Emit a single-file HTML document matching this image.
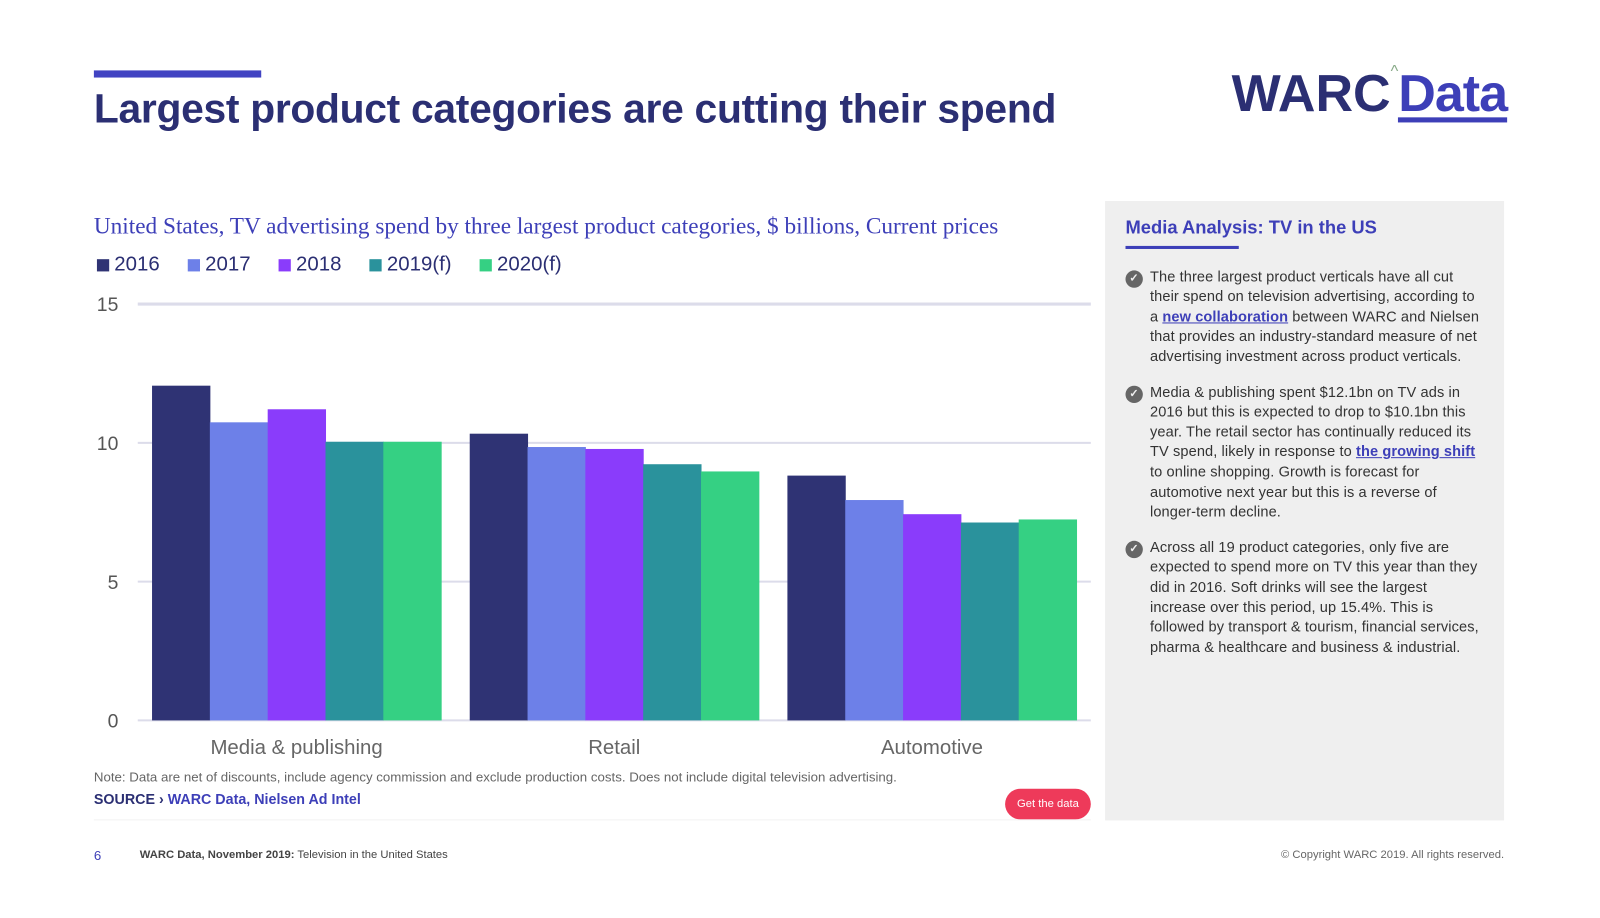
<!DOCTYPE html>
<html><head><meta charset="utf-8">
<style>
body{margin:0;width:1600px;height:900px;background:#fff;font-family:"Liberation Sans",sans-serif;overflow:hidden}
#wrap{position:absolute;left:0;top:0;width:1600px;height:900px;transform:scale(1.0204);transform-origin:0 0}
.abs{position:absolute}
.panel p{margin:0 0 15px 0;position:relative;padding-left:24px;white-space:nowrap}
.panel p .ic{position:absolute;left:0;top:2px;width:17px;height:17px;border-radius:50%;background:#666;color:#efefef;font-size:11px;line-height:17px;text-align:center;font-weight:bold}
.panel a{color:#3d3fb8;font-weight:bold;text-decoration:underline}
.leg{display:inline-flex;align-items:center;margin-right:22px}
.leg i{display:inline-block;width:12px;height:12px;margin-right:5px}
</style></head><body>
<div id="wrap">
<div class="abs" style="left:92px;top:69px;width:164px;height:7px;background:#4143c2"></div>
<div class="abs" style="left:92px;top:85px;font-size:40px;font-weight:bold;color:#2b2f73;letter-spacing:-0.3px">Largest product categories are cutting their spend</div>
<div class="abs" style="left:1207px;top:62px;font-size:51px;font-weight:bold;color:#2b2f73;letter-spacing:0px;white-space:nowrap">WARC<span style="font-size:16px;color:#8a8;vertical-align:top;font-weight:normal">^</span><span style="color:#3d3fb8;border-bottom:5px solid #3d3fb8;line-height:46px;display:inline-block;letter-spacing:-1px">Data</span></div>
<div class="abs" style="left:92px;top:209px;font-family:'Liberation Serif',serif;font-size:22.8px;color:#3d3fb8">United States, TV advertising spend by three largest product categories, $ billions, Current prices</div>
<div class="abs" style="left:95px;top:248px;font-size:20px;color:#2b2f73">
<span class="leg"><i style="background:#2f3374"></i>2016</span>
<span class="leg"><i style="background:#6d80e8"></i>2017</span>
<span class="leg"><i style="background:#8a3cfb"></i>2018</span>
<span class="leg"><i style="background:#2a929c"></i>2019(f)</span>
<span class="leg"><i style="background:#35d083"></i>2020(f)</span>
</div>
<svg class="abs" style="left:0;top:0" width="1080" height="760" id="chart"></svg>
<div class="abs" style="left:92px;top:754px;font-size:13px;color:#666">Note: Data are net of discounts, include agency commission and exclude production costs. Does not include digital television advertising.</div>
<div class="abs" style="left:92px;top:775px;font-size:14px;font-weight:bold;color:#2b2f73">SOURCE › <span style="color:#3d3fb8">WARC Data, Nielsen Ad Intel</span></div>
<div class="abs" style="left:985px;top:773px;width:84px;height:30px;border-radius:15px;background:#ee3a5a;color:#fff;font-size:11px;line-height:30px;text-align:center">Get the data</div>
<div class="abs" style="left:92px;top:803px;width:977px;height:1px;background:#f2f2f2"></div>
<div class="abs panel" style="left:1083px;top:197px;width:391px;height:607px;background:#efefef;box-sizing:border-box;padding:17px 10px 0 20px;font-size:14.3px;line-height:19.6px;color:#333;letter-spacing:0.1px">
<div style="font-size:18px;font-weight:bold;color:#3d3fb8;margin-bottom:7px;letter-spacing:0">Media Analysis: TV in the US</div>
<div style="width:111px;height:3px;background:#3d3fb8;margin-bottom:19px"></div>
<p><span class="ic">✓</span>The three largest product verticals have all cut<br>their spend on television advertising, according to<br>a <a>new collaboration</a> between WARC and Nielsen<br>that provides an industry-standard measure of net<br>advertising investment across product verticals.</p>
<p><span class="ic">✓</span>Media &amp; publishing spent $12.1bn on TV ads in<br>2016 but this is expected to drop to $10.1bn this<br>year. The retail sector has continually reduced its<br>TV spend, likely in response to <a>the growing shift</a><br>to online shopping. Growth is forecast for<br>automotive next year but this is a reverse of<br>longer-term decline.</p>
<p><span class="ic">✓</span>Across all 19 product categories, only five are<br>expected to spend more on TV this year than they<br>did in 2016. Soft drinks will see the largest<br>increase over this period, up 15.4%. This is<br>followed by transport &amp; tourism, financial services,<br>pharma &amp; healthcare and business &amp; industrial.</p>
</div>
<div class="abs" style="left:92px;top:831px;font-size:13px;color:#3d3fb8">6</div>
<div class="abs" style="left:137px;top:832px;font-size:11px;color:#444"><b>WARC Data, November 2019:</b> Television in the United States</div>
<div class="abs" style="left:1474px;transform:translateX(-100%);top:832px;font-size:11px;color:#666;white-space:nowrap">© Copyright WARC 2019. All rights reserved.</div>
</div>
<script>
const categories=["Media & publishing","Retail","Automotive"];
const s2016=[12.06,10.33,8.82];
const s2017=[10.74,9.85,7.94];
const s2018=[11.21,9.78,7.43];
const s2019=[10.04,9.23,7.13];
const s2020=[10.04,8.97,7.24];
const yTicks=[0,5,10,15];
const seriesNames=["2016","2017","2018","2019f","2020f"];
const series=[s2016,s2017,s2018,s2019,s2020];
const colors=["#2f3374","#6d80e8","#8a3cfb","#2a929c","#35d083"];
const NS="http://www.w3.org/2000/svg";
const svg=document.getElementById('chart');
const x0=135,x1=1069,yb=706,yt=298,ymax=15;
const y=v=>yb-(v/ymax)*(yb-yt);
const gw=(x1-x0)/categories.length,pad=14,bw=(gw-2*pad)/series.length;
function mk(t,a){const e=document.createElementNS(NS,t);for(const k in a)e.setAttribute(k,a[k]);svg.appendChild(e);return e;}
yTicks.forEach(t=>{
 const l=mk('line',{x1:x0,x2:x1,y1:y(t),y2:y(t),stroke:'#dcdcea','stroke-width':t==15?3:2});
 
 
 const tx=mk('text',{x:116,y:y(t)+7,'text-anchor':'end','font-size':19,fill:'#555','font-family':'Liberation Sans,sans-serif'});
 tx.textContent=t;
 
 
});
categories.forEach((c,i)=>{
 series.forEach((s,j)=>{
  const r=mk('rect',{x:x0+i*gw+pad+j*bw,y:y(s[i]),width:bw+0.5,height:yb-y(s[i]),fill:colors[j]});
  
  
 });
 const tx=mk('text',{x:x0+i*gw+gw/2,y:739,'text-anchor':'middle','font-size':20,fill:'#666','font-family':'Liberation Sans,sans-serif'});
 tx.textContent=c;
 
 
});
</script>
</body></html>
